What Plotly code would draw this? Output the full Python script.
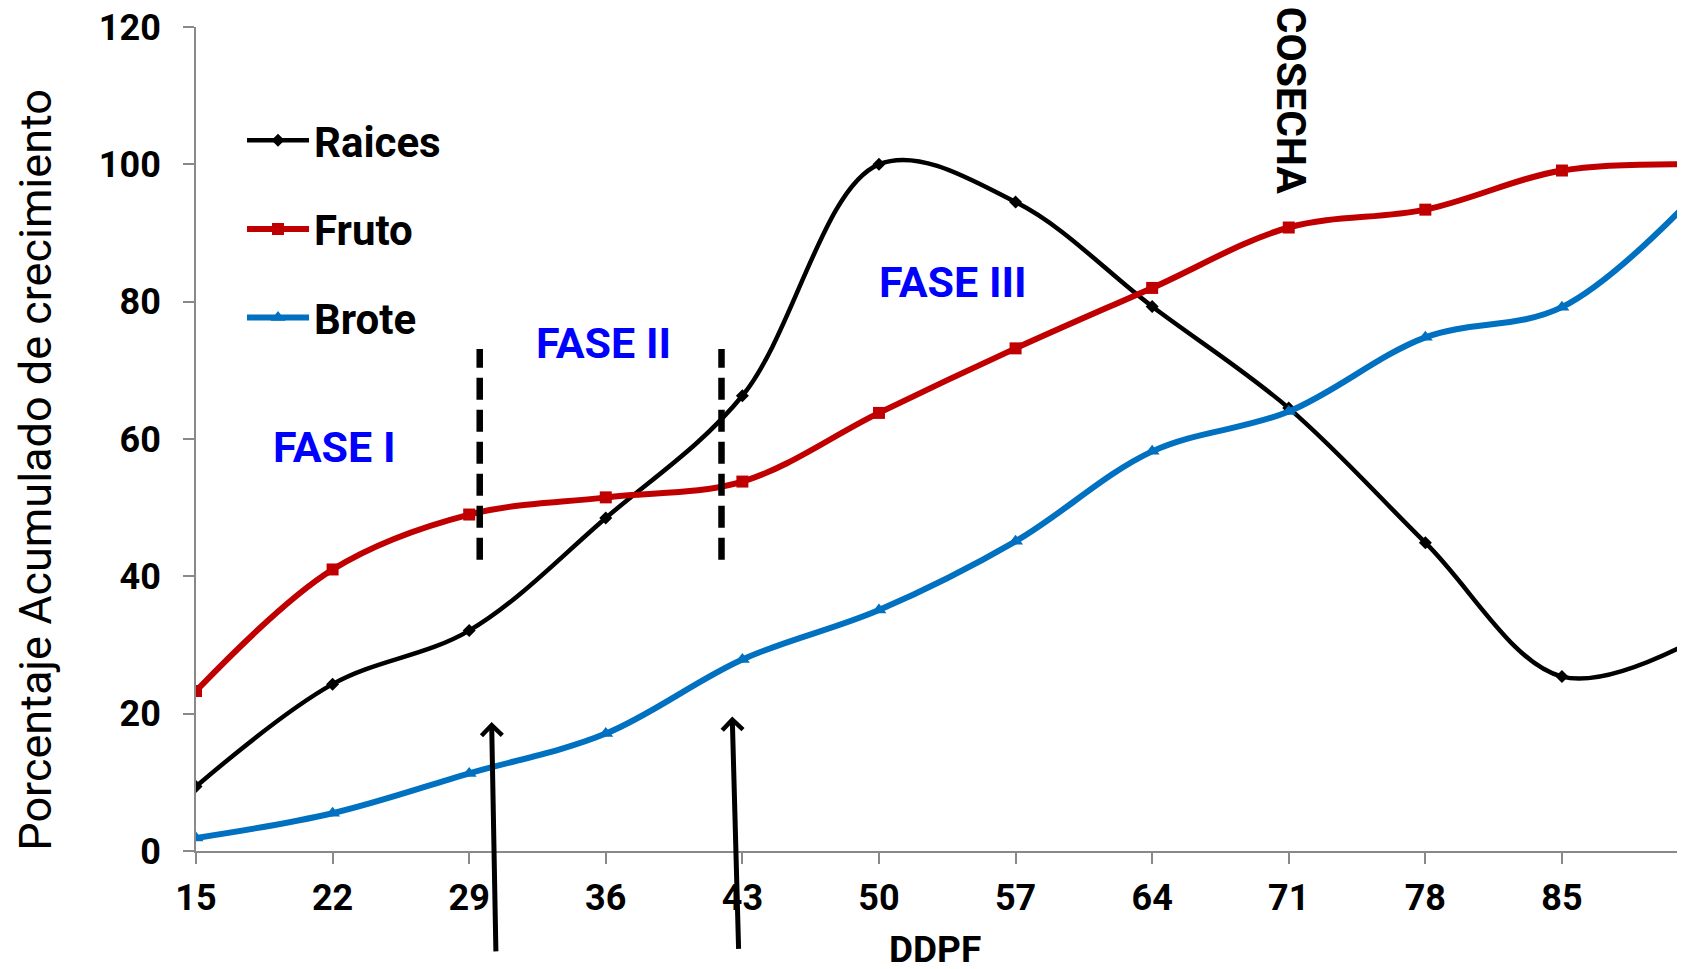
import plotly.graph_objects as go

# Data
ddpf = [15, 22, 29, 36, 43, 50, 57, 64, 71, 78, 85, 92]
tick_vals = [15, 22, 29, 36, 43, 50, 57, 64, 71, 78, 85]
raices = [9.4, 24.3, 32.1, 48.5, 66.3, 100.0, 94.5, 79.3, 64.5, 44.9, 25.4, 31.0]
fruto = [23.3, 41.0, 49.0, 51.5, 53.8, 63.8, 73.2, 82.0, 90.8, 93.4, 99.1, 100.0]
brote = [1.9, 5.5, 11.3, 17.1, 27.9, 35.1, 45.1, 58.2, 64.0, 74.8, 79.2, 96.0]

phase_labels = ["FASE I", "FASE II", "FASE III"]
phase_x = [22.1, 35.9, 53.8]
phase_y = [58.8, 74.0, 82.8]
phase_bounds = [29.54, 41.93]
arrow_x = [30.15, 42.48]
arrow_y = [18.8, 19.6]

FONT = "Roboto"

fig = go.Figure()
series = [
    ("Raices", raices, "#000000", "diamond", 10, 4.5),
    ("Fruto", fruto, "#C00000", "square", 12, 6),
    ("Brote", brote, "#0070C0", "triangle-up", 13, 6),
]
for name, vals, col, sym, msz, lw in series:
    fig.add_trace(go.Scatter(
        x=ddpf, y=vals, name=name, mode="lines+markers",
        line=dict(color=col, width=lw, shape="spline", smoothing=1),
        marker=dict(symbol=sym, size=msz, color=col),
        legendgroup=name,
    ))

for xb in phase_bounds:
    fig.add_shape(type="line", xref="x", yref="y", x0=xb, x1=xb, y0=42.4, y1=73.1,
                  line=dict(color="black", width=6.5, dash="22px,10px"))

for txt, px, py in zip(phase_labels, phase_x, phase_y):
    fig.add_annotation(x=px, y=py, xref="x", yref="y", text=txt, showarrow=False,
                       font=dict(family=FONT, size=43, color="#0000FF", weight="bold"))

fig.add_annotation(x=71.1, y=109.3, xref="x", yref="y", text="COSECHA", showarrow=False,
                   textangle=90, font=dict(family=FONT, size=41, color="black", weight="bold"))

for (axv, ayv), (dx, dy) in zip(zip(arrow_x, arrow_y), [(4.3, 231), (6.4, 234)]):
    fig.add_annotation(x=axv, y=ayv, xref="x", yref="y", text="", showarrow=True,
                       arrowhead=4, arrowsize=0.8, arrowwidth=5, arrowcolor="black",
                       ax=dx, ay=dy)

fig.add_annotation(x=0.498, y=-0.119, xref="paper", yref="paper", text="DDPF",
                   showarrow=False, yanchor="middle", xanchor="center",
                   font=dict(family=FONT, size=37, color="black", weight="bold"))

fig.add_annotation(x=-0.108, y=0.4624, xref="paper", yref="paper",
                   text="Porcentaje Acumulado de crecimiento", showarrow=False,
                   textangle=-90, xanchor="center", yanchor="middle",
                   font=dict(family=FONT, size=45, color="black"))

fig.update_layout(
    width=1685, height=969,
    paper_bgcolor="white", plot_bgcolor="white",
    margin=dict(l=188, r=13, t=19, b=126),
    showlegend=True,
    legend=dict(x=0.031, y=0.9035, xanchor="left", yanchor="top",
                font=dict(family=FONT, size=42, color="black", weight="bold"),
                tracegroupgap=31, itemwidth=62, bgcolor="rgba(0,0,0,0)"),
    xaxis=dict(range=[15, 91.05], tickmode="array", tickvals=tick_vals,
               showgrid=False, zeroline=False, showline=True, linecolor="#898989",
               linewidth=2, ticks="outside", ticklen=11, tickwidth=2, tickcolor="#898989",
               ticklabelstandoff=3, automargin=False,
               tickfont=dict(family=FONT, size=36, color="black", weight="bold")),
    yaxis=dict(range=[0, 120], tickmode="array", tickvals=[0, 20, 40, 60, 80, 100, 120],
               showgrid=False, zeroline=False,
               showline=True, linecolor="#898989", linewidth=2,
               ticks="outside", ticklen=11, tickwidth=2, tickcolor="#898989",
               ticklabelstandoff=15, ticklabeloverflow="allow", automargin=False,
               tickfont=dict(family=FONT, size=36, color="black", weight="bold")),
)

fig.write_html("out.html")
